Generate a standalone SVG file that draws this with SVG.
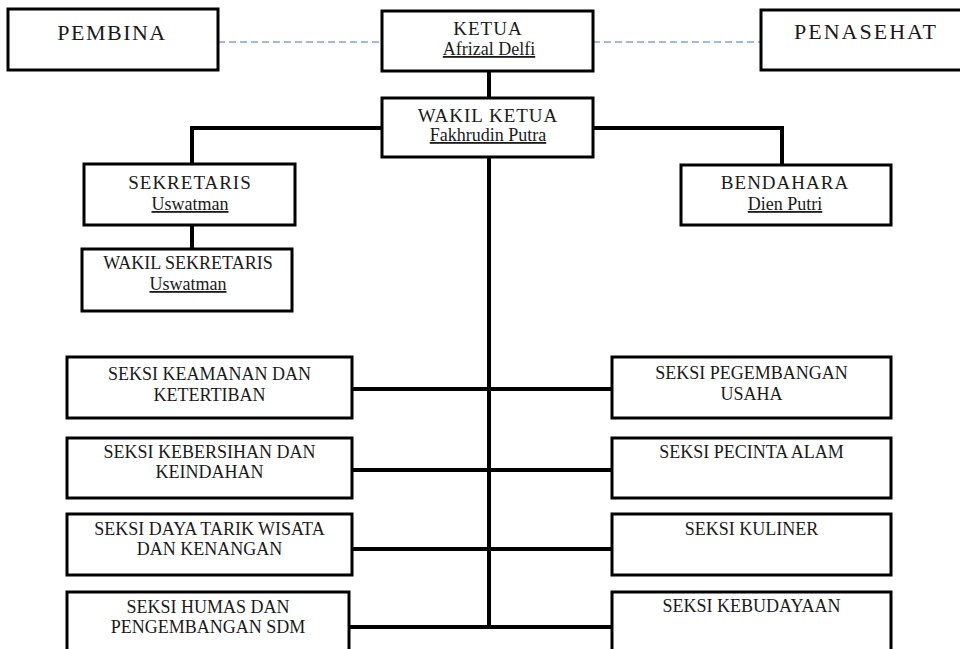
<svg xmlns="http://www.w3.org/2000/svg" width="960" height="649" viewBox="0 0 960 649">
<style>
.box{fill:#fff;stroke:#000;stroke-width:3}
.t{font-family:"Liberation Serif","Times New Roman",serif;fill:#1a1a1a;text-anchor:middle}
.big{font-size:22px;letter-spacing:1.5px}
.ttl{font-size:19px;letter-spacing:1px}
.nm{font-size:18px;text-decoration:underline}
.sk{font-size:18px}
.con{fill:none;stroke:#000;stroke-width:4}
.dash{fill:none;stroke:#7fa7d8;stroke-width:1.5;stroke-dasharray:7 4}
</style>
<rect width="960" height="649" fill="#fff"/>
<g id="connectors">
<path class="dash" d="M218,42 H382 M593,42 H761"/>
<path class="con" d="M489,71 V98"/>
<path class="con" d="M382,128 H192 V164"/>
<path class="con" d="M593,128 H782 V165"/>
<path class="con" d="M192,225 V249"/>
<path class="con" d="M489,157 V627"/>
<path class="con" d="M352,389 H612 M352,470 H612 M352,549 H612 M349,627 H612"/>
</g>
<g id="pembina"><rect class="box" x="8" y="9" width="210" height="61"/><text class="t big" x="112" y="40">PEMBINA</text></g>
<g id="ketua"><rect class="box" x="382" y="11" width="211" height="60"/><text class="t ttl" x="488" y="35">KETUA</text><text class="t nm" x="489" y="55">Afrizal Delfi</text></g>
<g id="penasehat"><rect class="box" x="761" y="10" width="210" height="60"/><text class="t big" x="866" y="39" style="letter-spacing:2px">PENASEHAT</text></g>
<g id="wakil-ketua"><rect class="box" x="382" y="98" width="211" height="59"/><text class="t ttl" x="488" y="122">WAKIL KETUA</text><text class="t nm" x="488" y="141">Fakhrudin Putra</text></g>
<g id="sekretaris"><rect class="box" x="84" y="164" width="211" height="61"/><text class="t ttl" x="190" y="189">SEKRETARIS</text><text class="t nm" x="190" y="210">Uswatman</text></g>
<g id="bendahara"><rect class="box" x="681" y="165" width="210" height="60"/><text class="t ttl" x="785" y="189">BENDAHARA</text><text class="t nm" x="785" y="210">Dien Putri</text></g>
<g id="wakil-sekretaris"><rect class="box" x="82" y="249" width="210" height="62"/><text class="t sk" x="188" y="269">WAKIL SEKRETARIS</text><text class="t nm" x="188" y="290">Uswatman</text></g>
<g id="seksi-keamanan"><rect class="box" x="67" y="357" width="285" height="61"/><text class="t sk" x="209.5" y="380">SEKSI KEAMANAN DAN</text><text class="t sk" x="209.5" y="401">KETERTIBAN</text></g>
<g id="seksi-kebersihan"><rect class="box" x="67" y="438" width="285" height="60"/><text class="t sk" x="209.5" y="458">SEKSI KEBERSIHAN DAN</text><text class="t sk" x="209.5" y="478">KEINDAHAN</text></g>
<g id="seksi-daya-tarik"><rect class="box" x="67" y="514" width="285" height="61"/><text class="t sk" x="209.5" y="535">SEKSI DAYA TARIK WISATA</text><text class="t sk" x="209.5" y="555">DAN KENANGAN</text></g>
<g id="seksi-humas"><rect class="box" x="67" y="592" width="282" height="70"/><text class="t sk" x="208" y="613">SEKSI HUMAS DAN</text><text class="t sk" x="208" y="633">PENGEMBANGAN SDM</text></g>
<g id="seksi-usaha"><rect class="box" x="612" y="357" width="279" height="61"/><text class="t sk" x="751.5" y="379">SEKSI PEGEMBANGAN</text><text class="t sk" x="751.5" y="400">USAHA</text></g>
<g id="seksi-pecinta-alam"><rect class="box" x="612" y="438" width="279" height="60"/><text class="t sk" x="751.5" y="458">SEKSI PECINTA ALAM</text></g>
<g id="seksi-kuliner"><rect class="box" x="612" y="514" width="279" height="61"/><text class="t sk" x="751.5" y="535">SEKSI KULINER</text></g>
<g id="seksi-kebudayaan"><rect class="box" x="612" y="592" width="279" height="70"/><text class="t sk" x="751.5" y="612">SEKSI KEBUDAYAAN</text></g>
</svg>
